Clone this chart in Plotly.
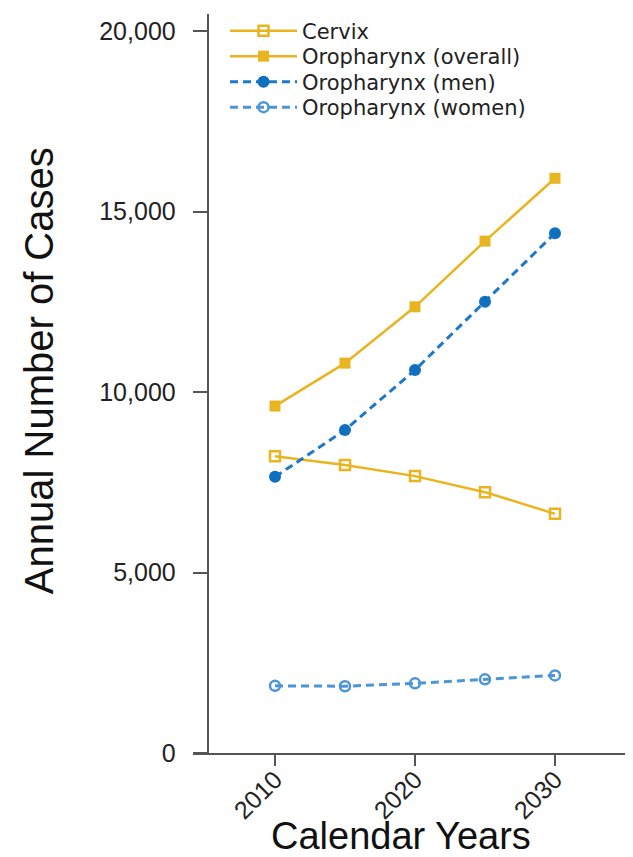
import plotly.graph_objects as go

years = [2010, 2015, 2020, 2025, 2030]
cervix = [8220, 7975, 7670, 7225, 6625]
oro_overall = [9610, 10800, 12360, 14180, 15920]
oro_men = [7650, 8945, 10610, 12500, 14400]
oro_women = [1860, 1850, 1930, 2040, 2150]

y_tickvals = [0, 5000, 10000, 15000, 20000]
y_ticktext = ["0", "5,000", "10,000", "15,000", "20,000"]
x_tickvals = [2010, 2020, 2030]
x_ticktext = ["2010", "2020", "2030"]

GOLD = "#E8B420"
BLUE = "#1E78C8"
LBLUE = "#4C95D6"

# page has an 8px body margin: figure drawn from screen (8,8)
OFF = 8
W, H = 633 - OFF, 857 - OFF
plot_left, plot_top, plot_bottom = 193, 14, 752.7   # screen px
ml, mr, mt, mb = plot_left - OFF, 0, plot_top - OFF, 857 - plot_bottom
plot_w = 633 - plot_left
plot_h = plot_bottom - plot_top
yaxis_x = 207.7


def px_x(sx):
    return (sx - plot_left) / plot_w


def px_y(sy):
    return (plot_bottom - sy) / plot_h


legend_rows = [31, 56.5, 82, 107.5]
legend_names = ["legend", "legend2", "legend3", "legend4"]

fig = go.Figure()
fig.add_trace(go.Scatter(
    x=years, y=cervix, name="Cervix", mode="lines+markers", legend="legend",
    line=dict(color=GOLD, width=2.5),
    marker=dict(symbol="square-open", size=10, color=GOLD, line=dict(width=2.5, color=GOLD)),
))
fig.add_trace(go.Scatter(
    x=years, y=oro_overall, name="Oropharynx (overall)", mode="lines+markers", legend="legend2",
    line=dict(color=GOLD, width=2.5),
    marker=dict(symbol="square", size=11, color=GOLD),
))
fig.add_trace(go.Scatter(
    x=years, y=oro_men, name="Oropharynx (men)", mode="lines+markers", legend="legend3",
    line=dict(color=BLUE, width=3, dash="8px,5px"),
    marker=dict(symbol="circle", size=12, color="#1070C0"),
))
fig.add_trace(go.Scatter(
    x=years, y=oro_women, name="Oropharynx (women)", mode="lines+markers", legend="legend4",
    line=dict(color=LBLUE, width=3, dash="8px,5px"),
    marker=dict(symbol="circle-open", size=10, color=LBLUE, line=dict(width=2.5, color=LBLUE)),
))

legend_font = dict(family="DejaVu Sans, Verdana, sans-serif", size=21, color="#222222")
legends = {}
for name, row in zip(legend_names, legend_rows):
    legends[name] = dict(
        x=px_x(225), y=px_y(row), xanchor="left", yanchor="middle",
        bgcolor="rgba(0,0,0,0)", borderwidth=0,
        font=legend_font, itemwidth=67,
    )

fig.update_layout(
    width=W, height=H,
    margin=dict(l=ml, r=mr, t=mt, b=mb),
    paper_bgcolor="white", plot_bgcolor="white",
    font=dict(family="Liberation Sans, Arial, sans-serif", color="#222222"),
    showlegend=True,
    xaxis=dict(
        range=[2004.143, 2035.571],
        showline=True, linecolor="#555555", linewidth=2,
        ticks="outside", ticklen=11, tickwidth=2, tickcolor="#555555",
        tickvals=x_tickvals, ticktext=x_ticktext, tickangle=-45,
        tickfont=dict(size=25, color="#222222"),
        ticklabelstandoff=-11,
        showgrid=False, zeroline=False,
        automargin=False,
    ),
    yaxis=dict(
        range=[0, 20471],
        anchor="free", position=(yaxis_x - plot_left) / plot_w,
        showline=True, linecolor="#555555", linewidth=2,
        ticks="outside", ticklen=14, tickwidth=2, tickcolor="#555555",
        tickvals=y_tickvals, ticktext=y_ticktext,
        tickfont=dict(size=25, color="#222222"),
        ticklabelstandoff=12,
        showgrid=False, zeroline=False,
        automargin=False,
    ),
    annotations=[
        dict(text="Calendar Years", xref="paper", yref="paper",
             x=px_x(400.5), y=px_y(836), xanchor="center", yanchor="middle",
             showarrow=False, borderpad=0, font=dict(size=38, color="#111111")),
        dict(text="Annual Number of Cases", xref="paper", yref="paper",
             x=px_x(39), y=px_y(371), xanchor="center", yanchor="middle",
             textangle=-90, showarrow=False, font=dict(size=40, color="#111111")),
    ],
    **legends,
)

fig.write_html("out.html")
